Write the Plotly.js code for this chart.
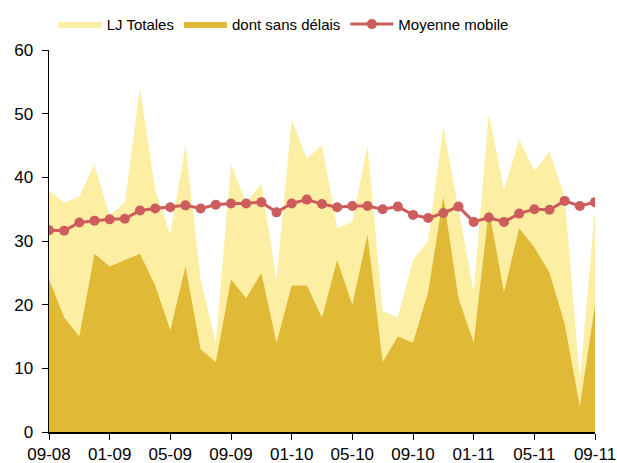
<!DOCTYPE html>
<html>
<head>
<meta charset="utf-8">
<script src="https://cdn.plot.ly/plotly-3.0.1.min.js"></script>
<style>
    html, body { margin: 0; padding: 0; background: #fff; }
    #chart { width: 617px; height: 463px; }
</style>
</head>
<body>
<div id="chart"></div>
<script>
// Mois (mm-aa), de 09-08 à 09-11
const months = [
    "09-08", "10-08", "11-08", "12-08",
    "01-09", "02-09", "03-09", "04-09", "05-09", "06-09", "07-09", "08-09",
    "09-09", "10-09", "11-09", "12-09",
    "01-10", "02-10", "03-10", "04-10", "05-10", "06-10", "07-10", "08-10",
    "09-10", "10-10", "11-10", "12-10",
    "01-11", "02-11", "03-11", "04-11", "05-11", "06-11", "07-11", "08-11",
    "09-11"
];

const ljTotales = [
    38, 36, 37, 42, 34, 36, 54, 38, 31, 45, 24, 14,
    42, 36, 39, 24, 49, 43, 45, 32, 33, 45, 19, 18,
    27, 30, 48, 35, 22, 50, 38, 46, 41, 44, 37, 8,
    35
];

const sansDelais = [
    24, 18, 15, 28, 26, 27, 28, 23, 16, 26, 13, 11,
    24, 21, 25, 14, 23, 23, 18, 27, 20, 31, 11, 15,
    14, 22, 37, 21, 14, 35, 22, 32, 29, 25, 17, 4,
    20
];

const moyenneMobile = [
    31.7, 31.6, 32.9, 33.2, 33.4, 33.5, 34.8, 35.1, 35.3, 35.6, 35.1, 35.7,
    35.9, 35.9, 36.1, 34.5, 35.9, 36.5, 35.8, 35.3, 35.5, 35.5, 35.0, 35.4,
    34.1, 33.6, 34.4, 35.4, 33.0, 33.7, 33.0, 34.3, 35.0, 34.9, 36.3, 35.5,
    36.1
];

const tickLabels = months.filter((m, i) => i % 4 === 0);

const traces = [
    {
        x: months,
        y: ljTotales,
        name: "LJ Totales",
        type: "scatter",
        mode: "lines",
        fill: "tozeroy",
        fillcolor: "#FCEFA3",
        line: { width: 0, color: "#FCEFA3" }
    },
    {
        x: months,
        y: sansDelais,
        name: "dont sans délais",
        type: "scatter",
        mode: "lines",
        fill: "tozeroy",
        fillcolor: "#E0BA36",
        line: { width: 0, color: "#E0BA36" }
    },
    {
        x: months,
        y: moyenneMobile,
        name: "Moyenne mobile",
        type: "scatter",
        mode: "lines+markers",
        line: { width: 3, color: "#CD5C5C" },
        marker: { size: 10, color: "#CD5C5C" }
    }
];

const layout = {
    width: 617,
    height: 463,
    paper_bgcolor: "#fff",
    plot_bgcolor: "#fff",
    margin: { l: 49, r: 22, t: 50, b: 31 },
    font: { family: "Liberation Sans, Arial, sans-serif", size: 17, color: "#000" },
    showlegend: true,
    legend: {
        orientation: "h",
        xref: "container",
        yref: "container",
        x: 0.087,
        xanchor: "left",
        y: 0.983,
        yanchor: "top",
        font: { size: 15 },
        traceorder: "normal",
        itemwidth: 43,
        bgcolor: "rgba(0,0,0,0)"
    },
    xaxis: {
        type: "category",
        range: [0, 36],
        tickmode: "array",
        tickvals: tickLabels,
        ticktext: tickLabels,
        showgrid: false,
        zeroline: false,
        showline: true,
        linecolor: "#000",
        linewidth: 1.5,
        ticks: "outside",
        ticklen: 6,
        tickcolor: "#000",
        tickfont: { size: 17 }
    },
    yaxis: {
        range: [0, 60],
        dtick: 10,
        showgrid: false,
        zeroline: false,
        showline: true,
        linecolor: "#000",
        linewidth: 1.5,
        ticks: "outside",
        ticklen: 6,
        tickcolor: "#000",
        ticklabelstandoff: 5,
        tickfont: { size: 17 }
    }
};

Plotly.newPlot("chart", traces, layout, { displayModeBar: false, staticPlot: true });
</script>
</body>
</html>
